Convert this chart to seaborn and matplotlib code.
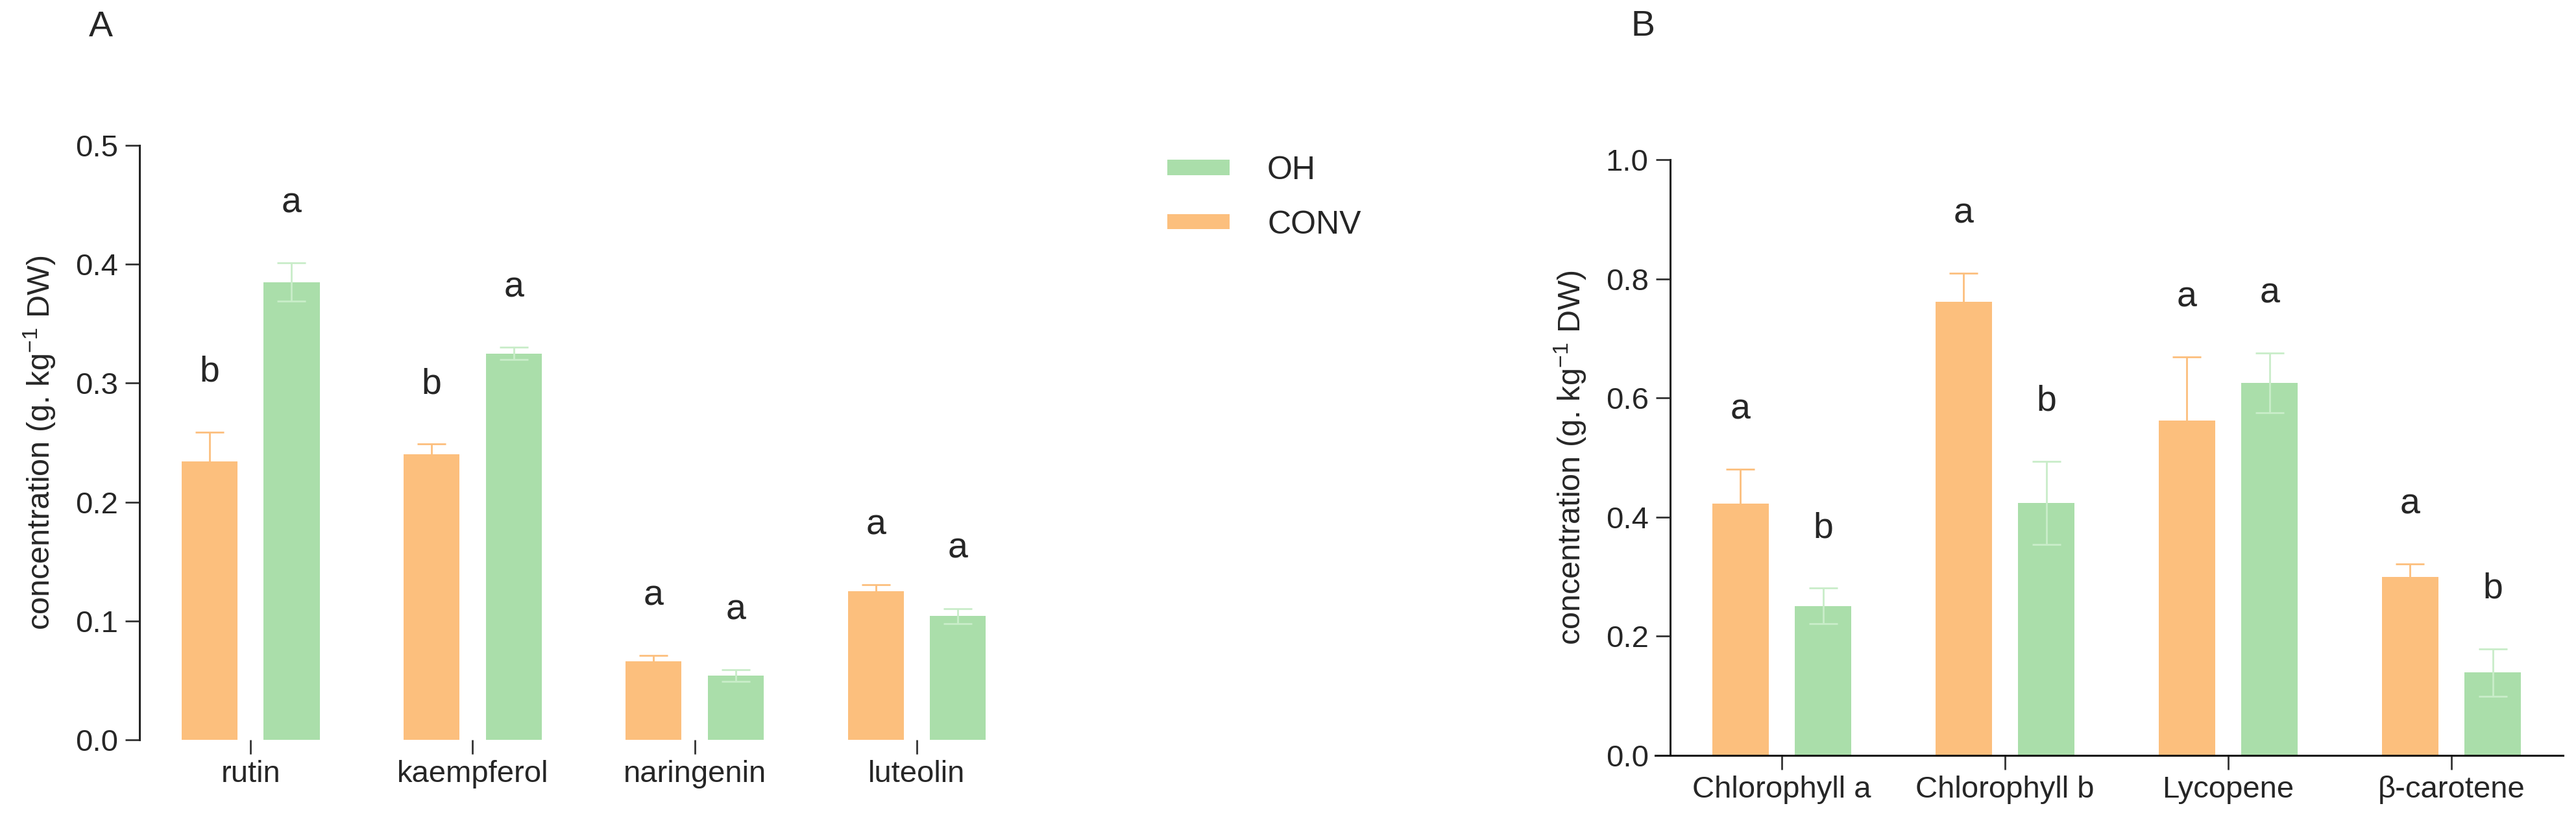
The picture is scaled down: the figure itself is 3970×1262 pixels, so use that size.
import pandas as pd
import seaborn as sns
import matplotlib.pyplot as plt
from matplotlib.patches import Patch

# panel A: flavonoids
flavonoids = ["rutin", "kaempferol", "naringenin", "luteolin"]
flav_conv = [0.234, 0.240, 0.066, 0.125]
flav_conv_err = [0.025, 0.009, 0.005, 0.0055]
flav_oh = [0.385, 0.325, 0.054, 0.104]
flav_oh_err = [0.016, 0.005, 0.005, 0.0065]
flav_letters_conv = ["b", "b", "a", "a"]
flav_letters_oh = ["a", "a", "a", "a"]

# panel B: pigments
pigments = ["Chlorophyll a", "Chlorophyll b", "Lycopene", "β-carotene"]
pig_conv = [0.423, 0.762, 0.562, 0.300]
pig_conv_err = [0.057, 0.047, 0.107, 0.021]
pig_oh = [0.251, 0.424, 0.625, 0.139]
pig_oh_err = [0.030, 0.070, 0.050, 0.040]
pig_letters_conv = ["a", "a", "a", "a"]
pig_letters_oh = ["b", "b", "a", "b"]

treatments = ["CONV", "OH"]
PALETTE = {"CONV": "#FCBF7D", "OH": "#AADEAA"}
ERR_COLORS = {"CONV": "#FCBF7D", "OH": "#C9EDC9"}

sns.set_style("ticks")
plt.rcParams["font.family"] = ["Liberation Sans", "DejaVu Sans"]
plt.rcParams["mathtext.fontset"] = "custom"
plt.rcParams["mathtext.rm"] = "Liberation Sans"
plt.rcParams["mathtext.it"] = "Liberation Sans:italic"
plt.rcParams["mathtext.bf"] = "Liberation Sans:bold"

YLABEL = "concentration (g. kg$^{-1}$ DW)"


def draw_panel(ax, cats, conv, conv_err, oh, oh_err, let_conv, let_oh, ymax, step):
    df = pd.DataFrame({
        "compound": cats * 2,
        "treatment": ["CONV"] * len(cats) + ["OH"] * len(cats),
        "value": conv + oh,
    })
    sns.barplot(data=df, x="compound", y="value", hue="treatment",
                hue_order=treatments, palette=PALETTE, width=0.74, gap=0.32,
                errorbar=None, legend=False, saturation=1, linewidth=0, ax=ax)
    errs = [conv_err, oh_err]
    letters = [let_conv, let_oh]
    bar_groups = list(ax.containers)
    for i, cont in enumerate(bar_groups):
        for bar, e, lab in zip(cont, errs[i], letters[i]):
            xc = bar.get_x() + bar.get_width() / 2
            h = bar.get_height()
            ax.errorbar(xc, h, yerr=e, ecolor=ERR_COLORS[treatments[i]],
                        elinewidth=2, capsize=16, capthick=2, fmt="none", zorder=3)
            ax.text(xc, h + e + 0.1 * ymax, lab, ha="center", va="center",
                    fontsize=40)
    ax.set_xlim(-0.5, len(cats) - 0.5)
    ax.set_ylim(0, ymax)
    ax.set_yticks([round(step * k, 2) for k in range(int(round(ymax / step)) + 1)])
    ax.set_xlabel("")
    ax.set_ylabel(YLABEL, fontsize=35, labelpad=19)
    ax.tick_params(axis="y", length=16, width=2, labelsize=34, pad=8, color="#333333")
    ax.tick_params(axis="x", length=16, width=2, labelsize=34, pad=6, color="#333333")
    sns.despine(ax=ax)
    ax.spines["left"].set_linewidth(2.2)
    ax.spines["left"].set_color("#222222")


fig = plt.figure(figsize=(39.7, 12.62), dpi=100)
ax_a = fig.add_axes([0.05416, 0.09667, 0.34484, 0.72583])
ax_b = fig.add_axes([0.64836, 0.07765, 0.3466, 0.7274])

draw_panel(ax_a, flavonoids, flav_conv, flav_conv_err, flav_oh, flav_oh_err,
           flav_letters_conv, flav_letters_oh, 0.5, 0.1)
ax_a.spines["bottom"].set_visible(False)

draw_panel(ax_b, pigments, pig_conv, pig_conv_err, pig_oh, pig_oh_err,
           pig_letters_conv, pig_letters_oh, 1.0, 0.2)
ax_b.spines["bottom"].set_linewidth(2.2)
ax_b.spines["bottom"].set_color("#111111")
ax_b.spines["bottom"].set_bounds(-0.567, 3.5)

fig.text(155 / 3970, 1 - 42 / 1262, "A", fontsize=40, ha="center", va="center")
fig.text(2532 / 3970, 1 - 41 / 1262, "B", fontsize=40, ha="center", va="center")

handles = [Patch(facecolor=PALETTE["OH"], edgecolor="none", label="OH"),
           Patch(facecolor=PALETTE["CONV"], edgecolor="none", label="CONV")]
fig.legend(handles=handles, loc="upper left",
           bbox_to_anchor=(1799 / 3970, 1 - 240 / 1262), frameon=False,
           fontsize=36, handlelength=1.92, handleheight=0.34,
           handletextpad=1.16, labelspacing=0.75, borderpad=0, borderaxespad=0)

fig.savefig("out.png", dpi=100)
